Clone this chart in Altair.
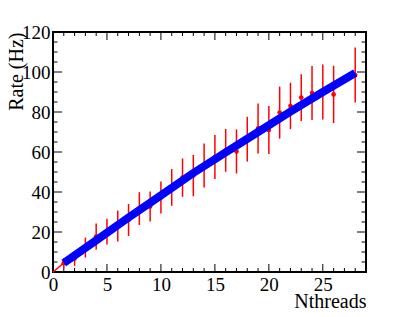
import altair as alt
import pandas as pd

# ---- data ----
nthreads = [1, 2, 3, 4, 5, 6, 7, 8, 9, 10, 11, 12, 13, 14, 15, 16, 17, 18, 19, 20,
            21, 22, 23, 24, 25, 26, 28]
rate = [4.4, 6.8, 12.2, 17.7, 20.2, 23.0, 26.0, 31.7, 32.7, 37.2, 42.3, 47.2, 48.2,
        53.3, 57.5, 60.8, 60.3, 66.4, 71.8, 71.0, 79.7, 83.0, 87.2, 89.5, 90.0, 88.8, 98.5]
rate_err = [2.5, 3.7, 5.0, 6.5, 6.4, 7.7, 8.0, 8.2, 7.5, 8.0, 9.2, 9.6, 10.3, 11.0,
            11.0, 10.7, 11.0, 11.2, 12.5, 12.0, 13.0, 11.6, 11.7, 13.5, 13.7, 14.3, 13.7]

fit_x = [1, 4, 7, 10, 13, 16, 19, 22, 25, 28]
fit_y = [4.5, 15.8, 27.2, 38.3, 49.5, 59.8, 70.0, 80.2, 90.0, 99.5]

origin_x = [0, 1]
origin_y = [0, 4.5]

x_major = [0, 5, 10, 15, 20, 25]
x_minor = [1, 2, 3, 4, 6, 7, 8, 9, 11, 12, 13, 14, 16, 17, 18, 19, 21, 22, 23, 24, 26, 27, 28]
y_major = [0, 20, 40, 60, 80, 100, 120]
y_minor = [5, 10, 15, 25, 30, 35, 45, 50, 55, 65, 70, 75, 85, 90, 95, 105, 110, 115]

W, H = 313, 240
FONT = "Liberation Serif"

pts = pd.DataFrame({"n": nthreads, "rate": rate, "err": rate_err})
pts["lo"] = pts["rate"] - pts["err"]
pts["hi"] = pts["rate"] + pts["err"]
fit = pd.DataFrame({"x": fit_x, "y": fit_y})
org = pd.DataFrame({"x": origin_x, "y": origin_y})

xs = alt.Scale(domain=[0, 29], nice=False, zero=False)
ys = alt.Scale(domain=[0, 120], nice=False, zero=False)

x_axis = alt.Axis(values=x_major, ticks=False, tickSize=0, domain=False, grid=False,
                  labelFont=FONT, labelFontSize=19, labelColor="black", labelPadding=3,
                  labelFlush=False, labelOverlap=False,
                  title="Nthreads", titleFont=FONT, titleFontSize=20, titleFontWeight="normal",
                  titleColor="black", titleX=W, titleY=35, titleAlign="right",
                  titleBaseline="alphabetic", titleAngle=0)
y_axis = alt.Axis(values=y_major, ticks=False, tickSize=0, domain=False, grid=False,
                  labelFont=FONT, labelFontSize=19, labelColor="black", labelPadding=3,
                  labelFlush=False, labelOverlap=False,
                  title="Rate (Hz)", titleFont=FONT, titleFontSize=20, titleFontWeight="normal",
                  titleColor="black", titleX=-31, titleY=0, titleAlign="right",
                  titleBaseline="alphabetic", titleAngle=270)


def X(field):
    return alt.X(field, scale=xs, axis=x_axis)


def Y(field):
    return alt.Y(field, scale=ys, axis=y_axis)


def xticks(vals, y0, y1):
    return alt.Chart(pd.DataFrame({"v": vals})).mark_rule(color="black", strokeWidth=1).encode(
        x=X("v:Q"), y=alt.value(y0), y2=alt.value(y1))


def yticks(vals, x0, x1):
    return alt.Chart(pd.DataFrame({"v": vals})).mark_rule(color="black", strokeWidth=1).encode(
        y=Y("v:Q"), x=alt.value(x0), x2=alt.value(x1))


ticks = [
    xticks(x_major, H, H - 8), xticks(x_minor, H, H - 4),
    xticks(x_major, 0, 8), xticks(x_minor, 0, 4),
    yticks(y_major, 0, 9), yticks(y_minor, 0, 4.5),
    yticks(y_major, W, W - 9), yticks(y_minor, W, W - 4.5),
]

origin_line = alt.Chart(org).mark_line(color="#ff0000", strokeWidth=1.5).encode(
    x=X("x:Q"), y=Y("y:Q"))

errbars = alt.Chart(pts).mark_rule(color="#ff0000", strokeWidth=1.5).encode(
    x=X("n:Q"), y=Y("lo:Q"), y2="hi:Q")

points = alt.Chart(pts).mark_circle(color="#ff0000", opacity=1, size=22).encode(
    x=X("n:Q"), y=Y("rate:Q"))

fit_line = alt.Chart(fit).mark_line(color="#0000ff", strokeWidth=8, strokeCap="butt").encode(
    x=X("x:Q"), y=Y("y:Q"))

chart = alt.layer(*ticks, origin_line, errbars, points, fit_line).properties(
    width=W, height=H,
    autosize=alt.AutoSizeParams(type="none"),
    padding={"left": 45, "top": 24, "right": 33, "bottom": 40},
    background="white",
).configure_view(stroke="black", strokeWidth=2)

chart.save("out.html", embed_options={"renderer": "svg", "actions": False})
